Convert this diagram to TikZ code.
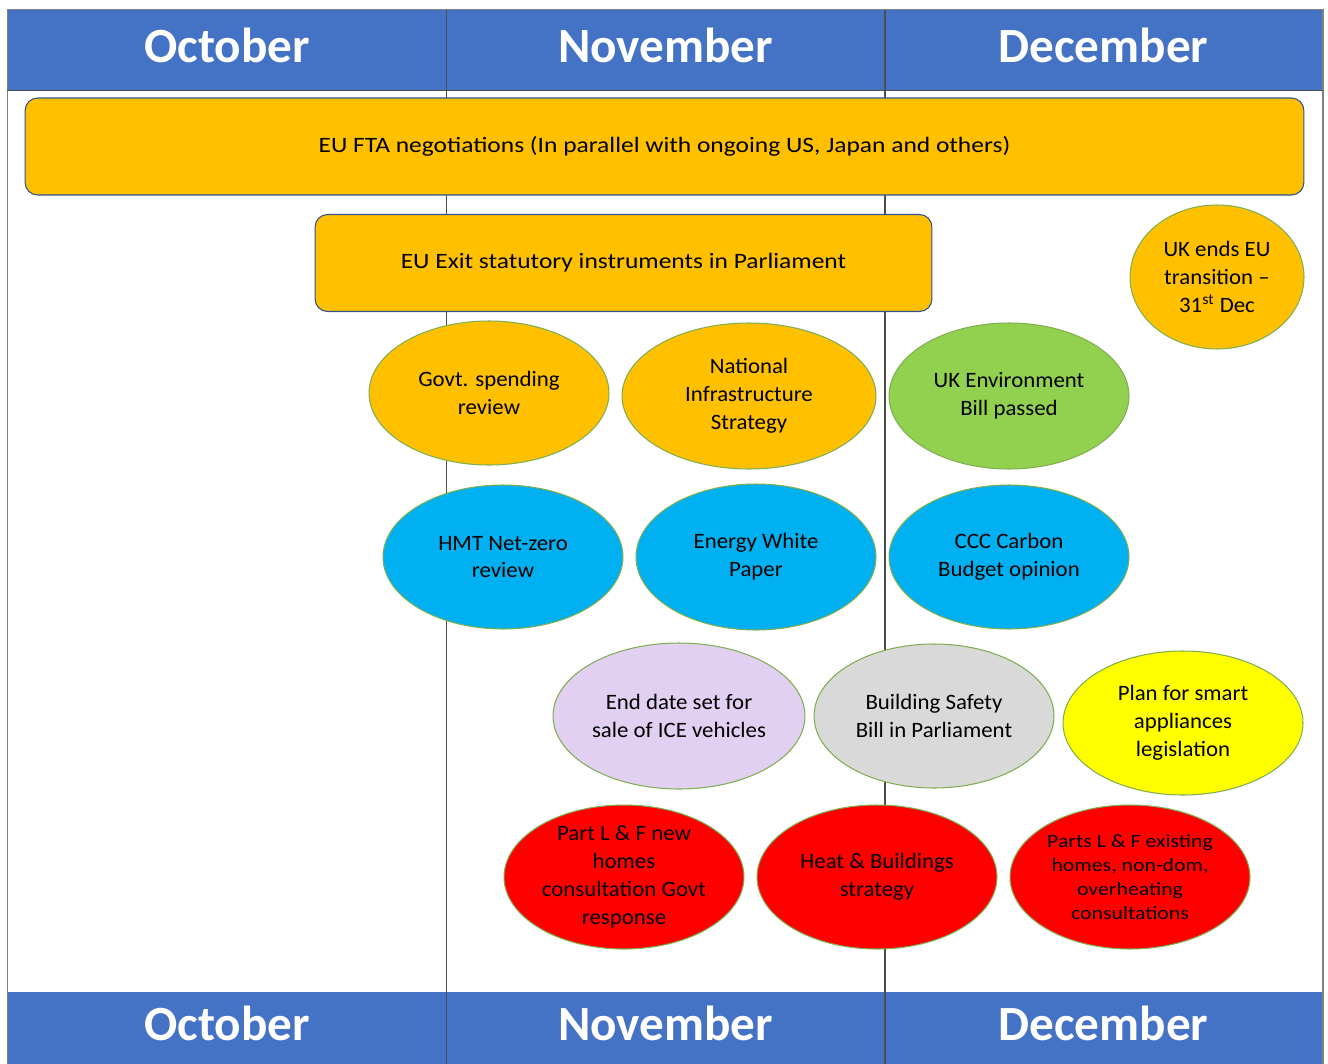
\documentclass[tikz,border=0pt]{standalone}
\usepackage{fontspec}
\setmainfont{Carlito}
\newfontfamily\barfont{Carlito}[FakeStretch=1.16, Ligatures=TeX]
\newfontfamily\eventfont{Carlito}[FakeStretch=1.04, Ligatures=TeX]
\usepackage{xcolor}
\usetikzlibrary{positioning, shapes.geometric}

\definecolor{hdrblue}{HTML}{4472C4}
\definecolor{amber}{HTML}{FFC000}
\definecolor{leaf}{HTML}{92D050}
\definecolor{sky}{HTML}{00B0F0}
\definecolor{lilac}{HTML}{E1D0F1}
\definecolor{silver}{HTML}{D9D9D9}
\definecolor{lemon}{HTML}{FFFF00}
\definecolor{alarm}{HTML}{FF0000}
\definecolor{rimgreen}{HTML}{7FAF50}
\definecolor{rimblue}{HTML}{2F528F}

\begin{document}
\begin{tikzpicture}[ x = 0.02cm, y = -0.02cm
                     , align = center
                     , node distance = 0.24cm and 0.24cm
                     , font = \eventfont\fontsize{12.5}{15.9}\selectfont
                     , month/.style = { rectangle
                                      , fill = hdrblue
                                      , text = white
                                      , inner sep = 0pt
                                      , text depth = 5.6pt
                                      , font = \normalfont\fontsize{28}{30}\selectfont\bfseries }
                     , bar/.style = { rectangle
                                    , rounded corners = 0.25cm
                                    , fill = amber
                                    , draw = rimblue
                                    , line width = 0.6pt
                                    , minimum height = 1.94cm
                                    , font = \barfont\fontsize{12.5}{15.9}\selectfont }
                     , event/.style = { ellipse
                                      , draw = rimgreen
                                      , line width = 0.6pt
                                      , inner sep = -25pt
                                      , minimum width = 4.8cm
                                      , minimum height = 2.88cm }
                     , divider/.style = { draw = black!70, line width = 0.8pt }
                     ]

  \useasboundingbox (0,0) rectangle (1328,1064);

  % month headers, top and bottom
  \foreach \m/\x [count=\i] in {October/227, November/665.5, December/1103.5} {
    \node (top\i) [month, minimum width = 8.77cm, minimum height = 1.6cm] at (\x,50) {\m};
    \node (bot\i) [month, minimum width = 8.77cm, minimum height = 1.44cm] at (\x,1028) {\m};
  }

  \draw [draw = black!50, line width = 0.8pt] (top1.north west) rectangle (bot3.south east);
  \draw [divider] (top1.north east) -- (bot1.south east);
  \draw [divider] (top2.north east) -- (bot2.south east);
  \draw [draw = black!70, line width = 0.6pt] (top1.south west) -- (top3.south east);

  % long running items
  \node (fta) [bar, minimum width = 25.58cm] at (664.5,146.5)
    {EU FTA negotiations (In parallel with ongoing US, Japan and others)};
  \node (exit) [bar, minimum width = 12.34cm] at (623.5,263)
    {EU Exit statutory instruments in Parliament};

  \node (transition) [event, fill = amber, minimum width = 3.48cm] at (1217,277)
    {UK ends EU\\transition –\\31\textsuperscript{st} Dec};

  % first row
  \node (spending) [event, fill = amber] at (489,393) {Govt. spending\\review};
  \node (infra) [event, fill = amber, right = of spending, yshift = -0.06cm,
                 minimum width = 5.08cm, minimum height = 2.92cm]
    {National\\Infrastructure\\Strategy};
  \node (envbill) [event, fill = leaf, right = of infra, minimum height = 2.92cm]
    {UK Environment\\Bill passed};

  % second row
  \node (netzero) [event, fill = sky] at (503,557) {HMT Net-zero\\review};
  \node (whitepaper) [event, fill = sky, right = of netzero, minimum height = 2.92cm]
    {Energy White\\Paper};
  \node (carbon) [event, fill = sky, right = of whitepaper] {CCC Carbon\\Budget opinion};

  % third row
  \node (ice) [event, fill = lilac, minimum width = 5.04cm, minimum height = 2.92cm]
    at (679,716) {End date set for\\sale of ICE vehicles};
  \node (safety) [event, fill = silver, right = 0.16cm of ice] {Building Safety\\Bill in Parliament};
  \node (smart) [event, fill = lemon, right = 0.16cm of safety, yshift = -0.14cm]
    {Plan for smart\\appliances\\legislation};

  % fourth row
  \node (newhomes) [event, fill = alarm] at (624,877)
    {Part L \& F new\\homes\\consultation Govt\\response};
  \node (heat) [event, fill = alarm, right = of newhomes] {Heat \& Buildings\\strategy};
  \node (existing) [event, fill = alarm, right = of heat,
                    font = \barfont\fontsize{10.7}{13.6}\selectfont]
    {Parts L \& F existing\\homes, non-dom,\\overheating\\consultations};

\end{tikzpicture}
\end{document}
